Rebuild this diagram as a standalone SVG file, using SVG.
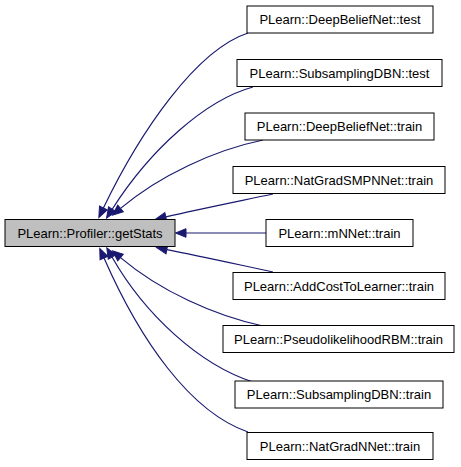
<svg xmlns="http://www.w3.org/2000/svg" width="461" height="467" viewBox="0 0 461 467">
<style>
.n rect{fill:#ffffff;stroke:#000000;stroke-width:1}
.m rect{fill:#bfbfbf;stroke:#000000;stroke-width:1}
text{font-family:"Liberation Sans",Arial,sans-serif;font-size:13px;text-anchor:middle;fill:#000000}
.e path{fill:none;stroke:#191970;stroke-width:1.2;marker-end:url(#ah)}
</style>
<defs>
<marker id="ah" markerUnits="userSpaceOnUse" markerWidth="12" markerHeight="10" refX="0" refY="0" viewBox="0 -5 12 10" orient="auto" overflow="visible">
<path d="M0,-4.3 L10.5,0 L0,4.3 z" fill="#191970" stroke="#191970" stroke-width="1"/>
</marker>
</defs>
<rect width="461" height="467" fill="#ffffff"/>
<g id="connectors" class="e">
<path d="M248,33 C196,50 140,132 103.4,208"/>
<path d="M253,87 C205,100 150,150 112.2,209.2"/>
<path d="M263,140 C215,150 160,175 120.5,208.4"/>
<path d="M273,194 C240,201 200,209 165.8,216.9"/>
<path d="M266,233 L186,233"/>
<path d="M273,272 C240,265 200,256 166.8,249.6"/>
<path d="M263,326 C215,316 160,291 120.5,257.6"/>
<path d="M253,382 C200,365 145,315 112,257"/>
<path d="M248,432 C190,412 140,340 104,258"/>
</g>
<g id="main" class="m"><rect x="5" y="219.5" width="170" height="27"/><text x="90" y="237.5">PLearn::Profiler::getStats</text></g>
<g id="n1" class="n"><rect x="247" y="6" width="186" height="27"/><text x="340" y="24">PLearn::DeepBeliefNet::test</text></g>
<g id="n2" class="n"><rect x="237" y="59.5" width="205" height="27"/><text x="339.5" y="77.5">PLearn::SubsamplingDBN::test</text></g>
<g id="n3" class="n"><rect x="245" y="113" width="189" height="27"/><text x="339.5" y="131">PLearn::DeepBeliefNet::train</text></g>
<g id="n4" class="n"><rect x="233" y="166.5" width="212" height="27"/><text x="339" y="184.5">PLearn::NatGradSMPNNet::train</text></g>
<g id="n5" class="n"><rect x="266" y="219.5" width="147" height="27"/><text x="339.5" y="237.5">PLearn::mNNet::train</text></g>
<g id="n6" class="n"><rect x="233" y="272.5" width="212" height="27"/><text x="339" y="290.5">PLearn::AddCostToLearner::train</text></g>
<g id="n7" class="n"><rect x="223" y="325.5" width="231" height="27"/><text x="338.5" y="343.5">PLearn::PseudolikelihoodRBM::train</text></g>
<g id="n8" class="n"><rect x="235" y="381" width="208" height="27"/><text x="339" y="399">PLearn::SubsamplingDBN::train</text></g>
<g id="n9" class="n"><rect x="247" y="432.5" width="186" height="27"/><text x="340" y="450.5">PLearn::NatGradNNet::train</text></g>
</svg>
